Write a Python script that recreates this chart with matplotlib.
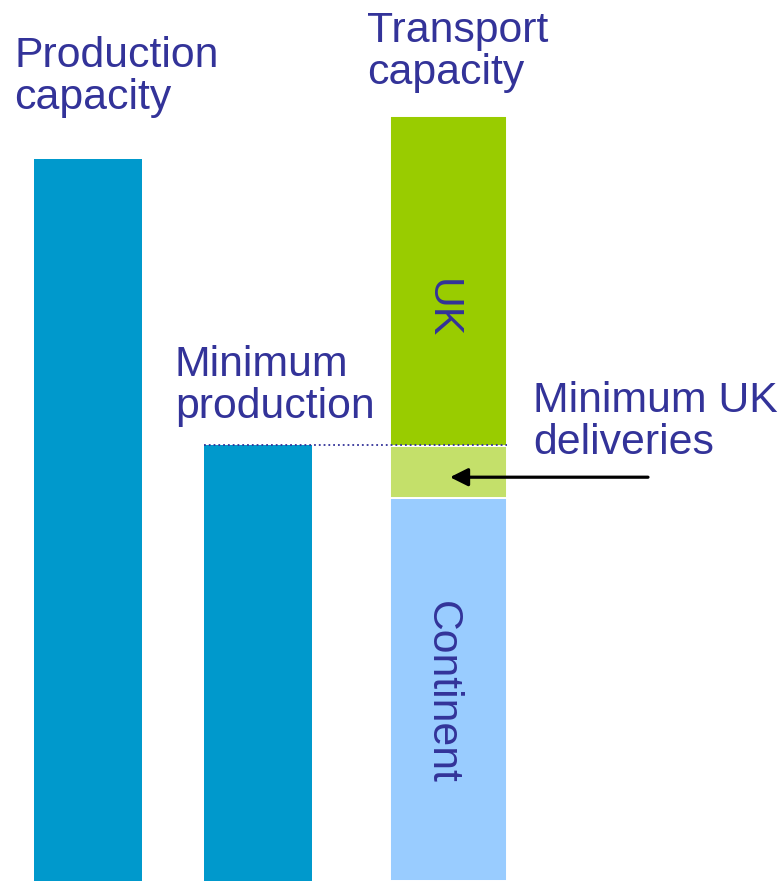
import matplotlib.pyplot as plt

plt.rcParams["font.family"] = ["Liberation Sans", "DejaVu Sans"]

# values (pixel-scale units)
bar_names = ["Production capacity", "Minimum production"]
bar_values = [722, 436]
stack_names = ["Continent", "Minimum UK deliveries", "UK"]
stack_values = [383, 52, 330]

blue = "#0099CC"
txt = "#333399"
fs = 30.8

fig = plt.figure(figsize=(7.82, 8.81), dpi=100)
ax = fig.add_axes([0, 0, 1, 1])
ax.set_xlim(0, 782)
ax.set_ylim(0, 881)
ax.axis("off")

# production bars
x_bars = [88, 258]
ax.bar(x_bars, bar_values, width=108, color=blue, linewidth=0)

# transport capacity stack
x3 = 448.5
w3 = 116.5
colors3 = ["#99CCFF", "#C4E06A", "#99CC00"]
bottom = 0
for v, c in zip(stack_values, colors3):
    ax.bar(x3, v, width=w3, bottom=bottom, color=c, edgecolor="white", linewidth=1.4)
    bottom += v

# dotted line at minimum production level
ax.hlines(bar_values[1], x_bars[1] - 54, x3 + w3 / 2, colors=txt, linestyles=":", linewidth=1.3)

# arrow to min UK deliveries
y_arrow = stack_values[0] + stack_values[1] * 0.4
ax.annotate("", xy=(450, y_arrow), xytext=(648, y_arrow),
            arrowprops=dict(arrowstyle="-|>", color="black", lw=2.3, mutation_scale=27,
                            shrinkA=0, shrinkB=0))

# labels (y = baseline of last line, in pixels from top)
def label(x, y_base, s):
    ax.text(x, 881 - y_base, s, color=txt, fontsize=fs, ha="left", va="baseline", linespacing=1.07)

label(14, 109, "Production\ncapacity")
label(367, 84, "Transport\ncapacity")
label(175, 418, "Minimum\nproduction")
label(533, 454, "Minimum UK\ndeliveries")

ax.text(442, 881 - 309, "UK", color=txt, fontsize=fs, rotation=-90, ha="center", va="center")
ax.text(442, 881 - 692, "Continent", color=txt, fontsize=fs, rotation=-90, ha="center", va="center")

fig.savefig("out.png", dpi=100)
